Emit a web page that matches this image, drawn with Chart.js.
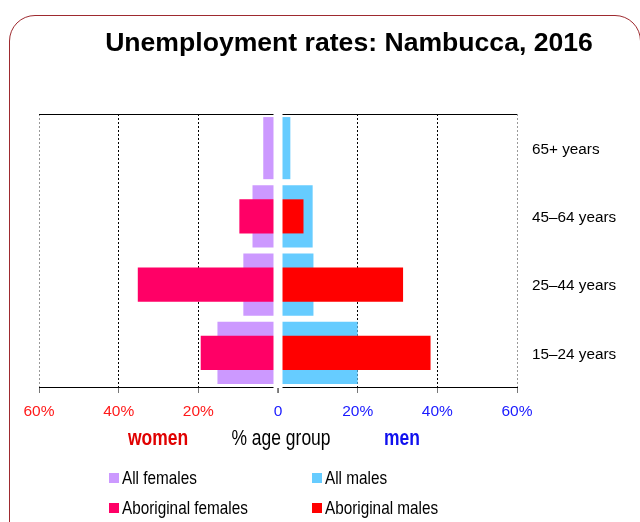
<!DOCTYPE html>
<html><head><meta charset="utf-8">
<script src="https://cdn.jsdelivr.net/npm/chart.js@4/dist/chart.umd.min.js"></script>
<style>
html,body{margin:0;padding:0;width:640px;height:522px;overflow:hidden;background:#fff;font-family:"Liberation Sans",Arial,sans-serif;}
#frame{position:absolute;left:9px;top:15px;width:632px;height:620px;border:1px solid #9e2a2f;border-radius:26px;box-sizing:border-box;}
#wrap{position:absolute;left:0;top:0;width:640px;height:522px;}
.t{position:absolute;white-space:nowrap;transform:translate(-50%,-50%) scaleX(0.82);line-height:1;}
#title{left:349px;top:42px;font-weight:bold;font-size:26.6px;color:#000;transform:translate(-50%,-50%);}
#women{left:158px;top:439px;font-weight:bold;font-size:21.3px;color:#e00000;}
#agegrp{left:281px;top:439px;font-size:21.3px;color:#000;}
#men{left:402px;top:439px;font-weight:bold;font-size:21.3px;color:#1010ee;}
.lg{position:absolute;font-size:18.67px;color:#000;white-space:nowrap;line-height:1;}
.lg span.sw{position:absolute;left:0;top:50%;width:10px;height:10px;margin-top:-5px;}
.lg span.tx{position:absolute;left:13px;top:50%;transform:translateY(-50%) scaleX(0.82);transform-origin:0 50%;}
</style>
</head><body>
<div id="frame"></div>
<div id="wrap"><canvas id="c" width="640" height="522"></canvas></div>
<div class="t" id="title">Unemployment rates: Nambucca, 2016</div>
<div class="t" id="women">women</div>
<div class="t" id="agegrp">% age group</div>
<div class="t" id="men">men</div>
<div id="legend"></div>
<script>
const categories = ['65+ years', '45–64 years', '25–44 years', '15–24 years'];
const allFemales = [3.7, 6.4, 8.7, 15.2];
const aboriginalFemales = [null, 9.7, 35.2, 19.4];
const allMales = [3.1, 8.7, 8.9, 20.0];
const aboriginalMales = [null, 6.4, 31.4, 38.3];
const tickValues = [-60, -40, -20, 0, 20, 40, 60];
const tickLabels = ['60%', '40%', '20%', '0', '20%', '40%', '60%'];
const seriesNames = ['All females', 'All males', 'Aboriginal females', 'Aboriginal males'];

const colors = ['#CC99FF', '#66CCFF', '#FF0066', '#FF0000'];
const FONT = '"Liberation Sans", Arial, sans-serif';
const neg = arr => arr.map(v => v == null ? null : -v);

const pyramidFrame = {
  id: 'pyramidFrame',
  afterDraw(chart) {
    const {ctx, chartArea: a, scales: {x}} = chart;
    ctx.save();
    ctx.strokeStyle = '#000';
    ctx.lineWidth = 1;
    ctx.beginPath();
    ctx.moveTo(a.left, Math.round(a.top) + 0.5);
    ctx.lineTo(a.right, Math.round(a.top) + 0.5);
    ctx.stroke();
    const x0 = x.getPixelForValue(0);
    ctx.fillStyle = '#fff';
    ctx.fillRect(x0 - 4.5, a.top - 2, 9, a.bottom - a.top + 3);
    ctx.strokeStyle = '#888';
    ctx.beginPath();
    ctx.moveTo(Math.round(x0) - 0.5, a.bottom + 1);
    ctx.lineTo(Math.round(x0) - 0.5, a.bottom + 6);
    ctx.stroke();
    ctx.restore();
  }
};

const chart = new Chart(document.getElementById('c'), {
  type: 'bar',
  data: {
    labels: categories,
    datasets: [
      {label: seriesNames[0], data: neg(allFemales), backgroundColor: colors[0], barPercentage: 0.91, order: 1},
      {label: seriesNames[1], data: allMales, backgroundColor: colors[1], barPercentage: 0.91, order: 1},
      {label: seriesNames[2], data: neg(aboriginalFemales), backgroundColor: colors[2], barPercentage: 0.5, order: 0},
      {label: seriesNames[3], data: aboriginalMales, backgroundColor: colors[3], barPercentage: 0.5, order: 0}
    ]
  },
  options: {
    indexAxis: 'y',
    responsive: false,
    animation: false,
    datasets: {bar: {grouped: false, categoryPercentage: 1, borderWidth: 0}},
    layout: {padding: {left: 39, right: 0, top: 114, bottom: 95}},
    plugins: {legend: {display: false}, title: {display: false}, tooltip: {enabled: false}},
    scales: {
      x: {
        type: 'linear', min: -60, max: 60,
        afterBuildTicks: s => { s.ticks = tickValues.map(v => ({value: v})); },
        afterFit: s => { s.height = 40; },
        ticks: {
          callback: v => tickLabels[tickValues.indexOf(v)],
          color: c => c.tick.value < 0 ? '#ff1a1a' : '#1a1aff',
          font: {family: FONT, size: 15.5},
          padding: 9, maxRotation: 0, autoSkip: false
        },
        grid: {
          color: c => c.tick.value === 0 ? 'rgba(0,0,0,0)' : (Math.abs(c.tick.value) === 60 ? '#999' : '#000'),
          tickColor: '#777', tickLength: 6, lineWidth: 1
        },
        border: {display: true, color: '#000', width: 1, dash: [2, 2]}
      },
      y: {
        position: 'right',
        afterFit: s => { s.width = 123; },
        grid: {display: false, drawTicks: false},
        border: {display: false},
        ticks: {
          color: '#000', padding: 15, crossAlign: 'near', labelOffset: 1.5,
          font: {family: FONT, size: 15.3}
        }
      }
    }
  },
  plugins: [pyramidFrame]
});

// HTML legend built from the chart datasets
const legendPos = [[109, 478], [312, 478], [109, 508], [312, 508]];
const lg = document.getElementById('legend');
chart.data.datasets.forEach((ds, i) => {
  const d = document.createElement('div');
  d.className = 'lg';
  d.style.left = legendPos[i][0] + 'px';
  d.style.top = legendPos[i][1] + 'px';
  d.innerHTML = '<span class="sw" style="background:' + ds.backgroundColor + '"></span><span class="tx">' + ds.label + '</span>';
  lg.appendChild(d);
});
</script>
</body></html>
